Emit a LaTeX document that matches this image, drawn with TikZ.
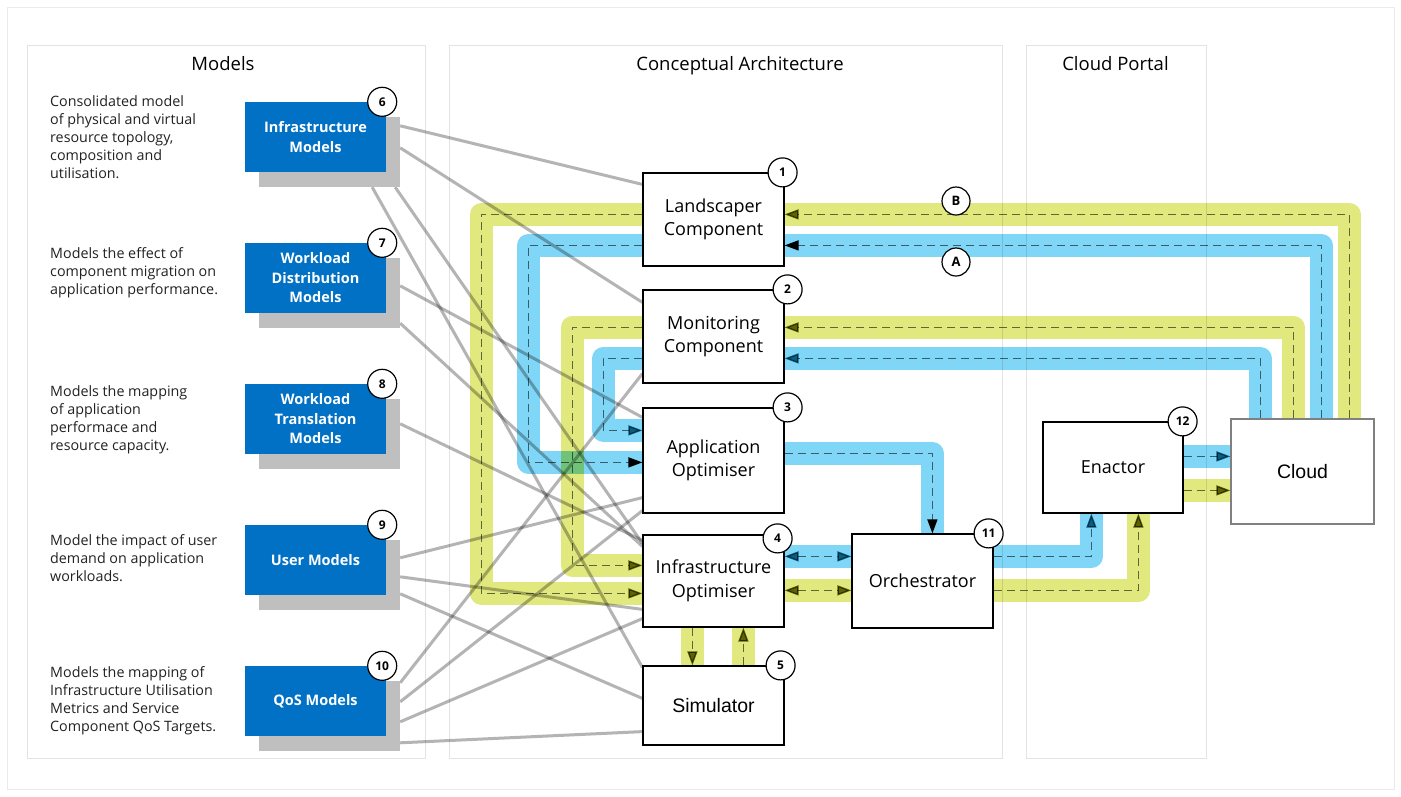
\documentclass[tikz,border=0pt]{standalone}
\usepackage{fontspec}
\setmainfont{Open Sans}
\newfontfamily\arialfont{Liberation Sans}
\usetikzlibrary{calc,arrows.meta}
\definecolor{intelblue}{HTML}{0071C5}
\definecolor{shadowgray}{HTML}{BFBFBF}
\definecolor{panelgray}{HTML}{E3E3E3}
\definecolor{bandyellow}{HTML}{E1E87E}
\definecolor{bandblue}{HTML}{80D6F6}
\definecolor{dashgray}{HTML}{707070}
\definecolor{linkgray}{HTML}{B4B4B4}
\definecolor{tipolive}{HTML}{6B6C00}
\definecolor{tipteal}{HTML}{167083}
\definecolor{desctext}{HTML}{222222}

\pgfdeclarelayer{panels}
\pgfdeclarelayer{links}
\pgfsetlayers{panels,links,main}

\tikzset{
  panelbox/.style={draw=panelgray, fill=white, line width=1pt},
  paneltitle/.style={anchor=base, font=\fontsize{18.5}{22}\selectfont, inner sep=0},
  desc/.style={anchor=west, align=left, inner sep=0, text=desctext,
    font=\fontsize{14.3}{18}\selectfont},
  modelbox/.style={fill=intelblue, text=white, align=center, inner sep=0,
    minimum width=141pt, minimum height=70pt,
    font=\bfseries\fontsize{14.5}{19.5}\selectfont},
  shadowbox/.style={fill=shadowgray, inner sep=0,
    minimum width=141pt, minimum height=70pt},
  compbox/.style={draw=black, fill=white, line width=1.2pt, align=center,
    inner sep=0, minimum width=141pt, minimum height=93pt,
    font=\fontsize{18}{23.5}\selectfont},
  badge/.style={circle, draw=black, fill=white, line width=1.2pt,
    minimum size=29pt, inner sep=0, font=\bfseries\fontsize{12}{12}\selectfont},
  modellink/.style={draw=linkgray, line width=3pt},
  ytip/.tip={Triangle[length=14pt,width=10pt,color=tipolive]},
  btip/.tip={Triangle[length=14pt,width=10pt,color=tipteal]},
  ktip/.tip={Triangle[length=14pt,width=10pt,color=black]},
  yflow/.style={preaction={draw=bandyellow, line width=23pt, line join=round, solid, -},
    draw=dashgray, line width=1.5pt, dash pattern=on 8pt off 5pt},
  bflow/.style={preaction={draw=bandblue, line width=23pt, line join=round, solid, -},
    draw=dashgray, line width=1.5pt, dash pattern=on 8pt off 5pt},
}

\begin{document}
\begin{tikzpicture}[x=1pt, y=-1pt]
\useasboundingbox (0,0) rectangle (1401,796);

\begin{pgfonlayer}{panels}
\draw[draw=panelgray!70, line width=1pt] (7,7) rectangle (1394,789);
\draw[panelbox] (27,45) rectangle (425,758);
\draw[panelbox] (449,45) rectangle (1002,758);
\draw[panelbox] (1026,45) rectangle (1206,758);
\end{pgfonlayer}

\node[paneltitle] (models-t) at (223,70) {Models};
\node[paneltitle] (arch-t) at (740,70) {Conceptual Architecture};
\node[paneltitle] (portal-t) at (1115.5,70) {Cloud Portal};

% model boxes with their drop shadows
\foreach \nm/\yy/\txt/\num in {
    im/137/{Infrastructure\\Models}/6,
    wdm/278/{Workload\\Distribution\\Models}/7,
    wtm/419/{Workload\\Translation\\Models}/8,
    um/560/{User Models}/9,
    qm/701/{QoS Models}/10} {
  \node[shadowbox] (\nm-s) at (329.5,\yy+15) {};
  \node[modelbox] (\nm) at (315.5,\yy) {\txt};
  \node[badge] (\nm-n) at ($(\nm.north east)+(-4,0)$) {\num};
}

\node[desc] (im-d) at (50,137) {Consolidated model\\of physical and virtual\\resource topology,\\composition and\\utilisation.};
\node[desc] (wdm-d) at (50,273) {Models the effect of\\component migration on\\application performance.};
\node[desc] (wtm-d) at (50,420) {Models the mapping\\of application\\performace and\\resource capacity.};
\node[desc] (um-d) at (50,558) {Model the impact of user\\demand on application\\workloads.};
\node[desc] (qm-d) at (50,701) {Models the mapping of\\Infrastructure Utilisation\\Metrics and Service\\Component QoS Targets.};

% components
\node[compbox] (land) at (713.5,219.5) {Landscaper\\Component};
\node[compbox] (mon) at (713.5,336.5) {Monitoring\\Component};
\node[compbox, minimum height=105pt] (appopt) at (713.5,460.5) {Application\\Optimiser};
\node[compbox, minimum height=92pt] (infopt) at (713.5,581) {Infrastructure\\Optimiser};
\node[compbox, minimum height=79pt, font=\arialfont\fontsize{19.5}{24}\selectfont] (sim) at (713.5,705.5) {Simulator};
\node[compbox, minimum height=94pt] (orch) at (922.5,581) {Orchestrator};
\node[compbox, minimum width=140pt, minimum height=91pt] (enac) at (1113,467.5) {Enactor};
\node[compbox, draw=black!50, minimum width=143pt, minimum height=105pt,
  font=\arialfont\fontsize{19.5}{24}\selectfont] (cloud) at (1302.5,471.5) {Cloud};

\node[badge] (land-n) at ($(land.north east)+(-2,0)$) {1};
\node[badge] (mon-n) at ($(mon.north east)+(3,0)$) {2};
\node[badge] (appopt-n) at ($(appopt.north east)+(3,0)$) {3};
\node[badge] (infopt-n) at ($(infopt.north east)+(-7,4)$) {4};
\node[badge] (sim-n) at ($(sim.north east)+(-4,0)$) {5};
\node[badge] (orch-n) at ($(orch.north east)+(-5,0)$) {11};
\node[badge] (enac-n) at ($(enac.north east)+(-1,0)$) {12};

\begin{pgfonlayer}{links}
\begin{scope}[blend mode=multiply]
% models feeding the components
\draw[modellink] ($(im-s.north east)+(0,9)$) -- ($(land.north west)+(0,12)$);
\draw[modellink] ($(im-s.north east)+(0,31)$) -- ($(mon.north west)+(0,13)$);
\draw[modellink] ($(im-s.south east)+(-5,0)$) -- ($(infopt.north west)+(0,9)$);
\draw[modellink] ($(im-s.south east)+(-28,0)$) -- ($(sim.north west)+(0,2)$);
\draw[modellink] ($(wdm-s.north east)+(0,28)$) -- ($(appopt.north west)+(0,10)$);
\draw[modellink] ($(wdm-s.south east)+(0,-5)$) -- ($(infopt.north west)+(0,12)$);
\draw[modellink] ($(wtm-s.north east)+(0,25)$) -- ($(infopt.north west)+(0,6)$);
\draw[modellink] ($(um-s.north east)+(0,18)$) -- ($(appopt.south west)+(0,-16)$);
\draw[modellink] ($(um-s.north east)+(0,37)$) -- ($(infopt.north west)+(0,75)$);
\draw[modellink] ($(um-s.north east)+(0,54)$) -- ($(sim.north west)+(0,33)$);
\draw[modellink] ($(qm-s.north east)+(0,2)$) -- ($(mon.south west)+(0,-10)$);
\draw[modellink] ($(qm-s.north east)+(0,21)$) -- ($(appopt.south west)+(0,-3)$);
\draw[modellink] ($(qm-s.north east)+(0,41)$) -- ($(infopt.south west)+(0,-9)$);
\draw[modellink] ($(qm-s.north east)+(0,62)$) -- ($(sim.south west)+(0,-14)$);

% cloud back to landscaper and monitoring
\draw[yflow, -{ytip}] ($(cloud.north west)+(119,0)$) |- ($(land.north east)+(0,42)$);
\draw[bflow, -{ktip}] ($(cloud.north west)+(91,0)$) |- ($(land.north east)+(0,73)$);
\draw[yflow, -{ytip}] ($(cloud.north west)+(63,0)$) |- ($(mon.north east)+(0,38)$);
\draw[bflow, -{btip}] ($(cloud.north west)+(30,0)$) |- ($(mon.north east)+(0,69)$);

% on to the optimisers
\draw[yflow, -{ytip}] ($(land.north west)+(0,42)$) -- ++(-161,0) |- ($(infopt.north west)+(0,59)$);
\draw[bflow, -{ktip}] ($(land.north west)+(0,73)$) -- ++(-114,0) |- ($(appopt.north west)+(0,55)$);
\draw[yflow, -{ytip}] ($(mon.north west)+(0,38)$) -- ++(-70,0) |- ($(infopt.north west)+(0,31)$);
\draw[bflow, -{btip}] ($(mon.north west)+(0,69)$) -- ++(-39,0) |- ($(appopt.north west)+(0,23)$);

\draw[bflow, -{ktip}] ($(appopt.north east)+(0,46)$) -| ($(orch.north west)+(81,0)$);

\coordinate (io-b) at ($(infopt.north east)+(0,22)$);
\coordinate (io-y) at ($(infopt.north east)+(0,56)$);
\draw[bflow, {btip}-{btip}] (io-b) -- (io-b -| orch.west);
\draw[yflow, {ytip}-{ytip}] (io-y) -- (io-y -| orch.west);

\coordinate (is-d) at ($(infopt.south west)+(50,0)$);
\coordinate (is-u) at ($(sim.north west)+(101,0)$);
\draw[yflow, -{ytip}] (is-d) -- (is-d |- sim.north);
\draw[yflow, -{ytip}] (is-u) -- (is-u |- infopt.south);

% orchestrator to enactor to cloud
\draw[bflow, -{btip}] ($(orch.north east)+(0,23)$) -| ($(enac.south west)+(49,0)$);
\draw[yflow, -{ytip}] ($(orch.north east)+(0,57)$) -| ($(enac.south west)+(96,0)$);

\coordinate (ec-b) at ($(enac.north east)+(0,35)$);
\coordinate (ec-y) at ($(enac.north east)+(0,69)$);
\draw[bflow, -{btip}] (ec-b) -- (ec-b -| cloud.west);
\draw[yflow, -{ytip}] (ec-y) -- (ec-y -| cloud.west);
\end{scope}
\end{pgfonlayer}

\node[badge, minimum size=28pt, font=\bfseries\fontsize{13}{13}\selectfont] (b-n) at (956,201) {B};
\node[badge, minimum size=28pt, font=\bfseries\fontsize{13}{13}\selectfont] (a-n) at (956,262) {A};
\end{tikzpicture}
\end{document}
